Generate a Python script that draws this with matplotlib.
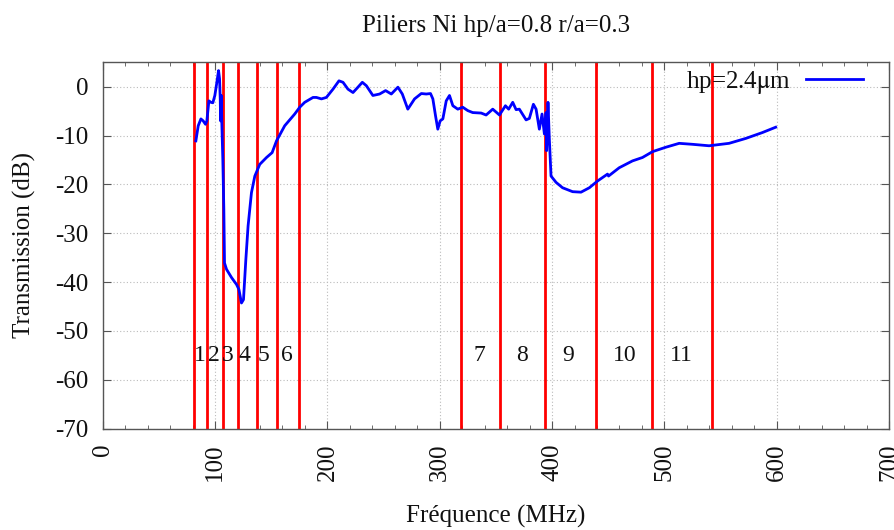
import matplotlib
matplotlib.use("Agg")
import matplotlib.pyplot as plt
from matplotlib.ticker import MultipleLocator

plt.rcParams['font.family'] = ['Liberation Serif', 'DejaVu Serif']
plt.rcParams['mathtext.fontset'] = 'stix'
plt.rcParams['axes.unicode_minus'] = False

# Measured transmission spectrum (frequency in MHz, transmission in dB)
freq_mhz = [
    82.9, 85.0, 87.4, 89.4, 91.5, 92.7, 94.5, 96.3, 98.0, 99.8, 101.6, 103.1,
    104.0, 104.6, 104.9, 105.5, 106.0, 106.9, 107.8, 108.4, 110.2, 114.7,
    119.1, 121.2, 123.5, 125.3, 127.4, 129.4, 132.4, 135.4, 139.8, 145.8,
    150.8, 154.7, 162.0, 170.9, 175.4, 179.8, 187.2, 190.2, 194.7, 199.1,
    205.0, 210.3, 213.9, 218.3, 222.8, 227.2, 231.1, 234.7, 240.5, 246.5,
    251.8, 256.9, 262.8, 266.7, 271.6, 277.6, 283.6, 288.0, 291.8, 293.9,
    296.3, 298.3, 300.4, 302.8, 305.8, 308.7, 311.7, 316.1, 320.5, 325.0,
    329.4, 336.9, 341.3, 347.2, 353.2, 358.5, 361.4, 365.0, 368.0, 370.9,
    376.9, 379.8, 383.4, 385.8, 388.7, 391.1, 393.2, 394.7, 395.2, 396.4,
    397.6, 399.1, 403.6, 409.4, 418.3, 425.8, 433.2, 440.6, 449.4, 450.3,
    459.8, 471.6, 480.5, 489.5, 501.3, 513.2, 525.0, 539.8, 557.6, 572.4,
    587.2, 599.1,
]
transmission_db = [
    -11.1, -8.0, -6.6, -7.0, -7.7, -7.0, -2.9, -3.2, -3.3, -1.8, 0.9, 3.3,
    1.6, -2.5, -7.0, -1.8, -7.3, -14.8, -25.1, -36.1, -37.4, -39.1,
    -40.5, -41.5, -44.3, -43.6, -35.4, -28.5, -21.7, -18.3, -15.9, -14.5,
    -13.5, -11.1, -8.0, -5.6, -4.2, -3.2, -2.2, -2.2, -2.5, -2.2,
    -0.5, 1.2, 0.9, -0.5, -1.2, -0.1, 0.9, 0.2, -1.8, -1.5,
    -0.8, -1.5, -0.1, -1.5, -4.6, -2.5, -1.4, -1.5, -1.4, -2.5,
    -6.0, -8.7, -7.0, -6.6, -2.9, -1.8, -3.9, -4.6, -4.2, -4.9,
    -5.3, -5.4, -5.8, -4.6, -5.8, -3.9, -4.6, -3.2, -4.7, -4.6,
    -6.8, -6.5, -3.6, -4.6, -8.7, -5.6, -9.7, -5.3, -13.1, -3.2,
    -10.7, -18.3, -19.6, -20.7, -21.5, -21.6, -20.7, -19.3, -17.9, -18.3,
    -16.6, -15.2, -14.5, -13.3, -12.4, -11.6, -11.8, -12.1, -11.6, -10.6,
    -9.4, -8.3,
]

# Band boundaries (MHz) and the band numbers written between them
boundaries_mhz = [81.4, 92.7, 106.7, 120.0, 136.9, 154.7, 174.8,
                  319.1, 353.4, 394.0, 439.4, 489.3, 542.2]
band_labels = ['1', '2', '3', '4', '5', '6', '7', '8', '9', '10', '11']
band_label_x = [86.5, 99.0, 111.0, 126.5, 143.4, 163.6,
                335.7, 373.0, 414.5, 464.9, 515.0]
band_label_y = -55

series_label = r'hp=2.4$\mathrm{\mu}$m'

fig = plt.figure(figsize=(8.95, 5.30), dpi=100)
ax = fig.add_axes([0.1148, 0.1915, 0.8785, 0.691])

for b in boundaries_mhz:
    ax.axvline(b, color='#ff0000', lw=2.0, zorder=2)

ax.plot(freq_mhz, transmission_db, color='#0000ff', lw=2.0,
        label=series_label, zorder=3)

for lab, lx in zip(band_labels, band_label_x):
    ax.text(lx, band_label_y, lab, ha='center', va='center', fontsize=17,
            color='#111111', zorder=4)

ax.set_xlim(0, 700)
ax.set_ylim(-70, 5)
ax.xaxis.set_major_locator(MultipleLocator(100))
ax.xaxis.set_minor_locator(MultipleLocator(20))
ax.yaxis.set_major_locator(MultipleLocator(10))

ax.grid(True, which='major', color='#bbbbbb', linestyle=(0, (1, 2)), lw=0.8)
ax.set_axisbelow(True)
ax.tick_params(which='both', direction='in', top=True, right=True,
               colors='#555555', labelcolor='#111111', labelsize=18)
ax.tick_params(which='major', length=6)
ax.tick_params(which='minor', length=3)
ax.tick_params(axis='x', labelrotation=90, pad=11)
ax.tick_params(axis='y', pad=10)
for s in ax.spines.values():
    s.set_color('#555555')
    s.set_linewidth(1.0)

ax.set_xlabel('Fréquence (MHz)', fontsize=18, color='#111111', labelpad=17)
ax.set_ylabel('Transmission (dB)', fontsize=18, color='#111111', labelpad=14)
ax.set_title('Piliers Ni hp/a=0.8 r/a=0.3', fontsize=18, color='#111111',
             pad=22)

leg = ax.legend(loc='center right', bbox_to_anchor=(0.967, 0.946),
                frameon=False, markerfirst=False, fontsize=18,
                handlelength=2.3, handletextpad=0.6, borderpad=0,
                borderaxespad=0)
for t in leg.get_texts():
    t.set_color('#111111')

fig.savefig('out.png', dpi=100)
